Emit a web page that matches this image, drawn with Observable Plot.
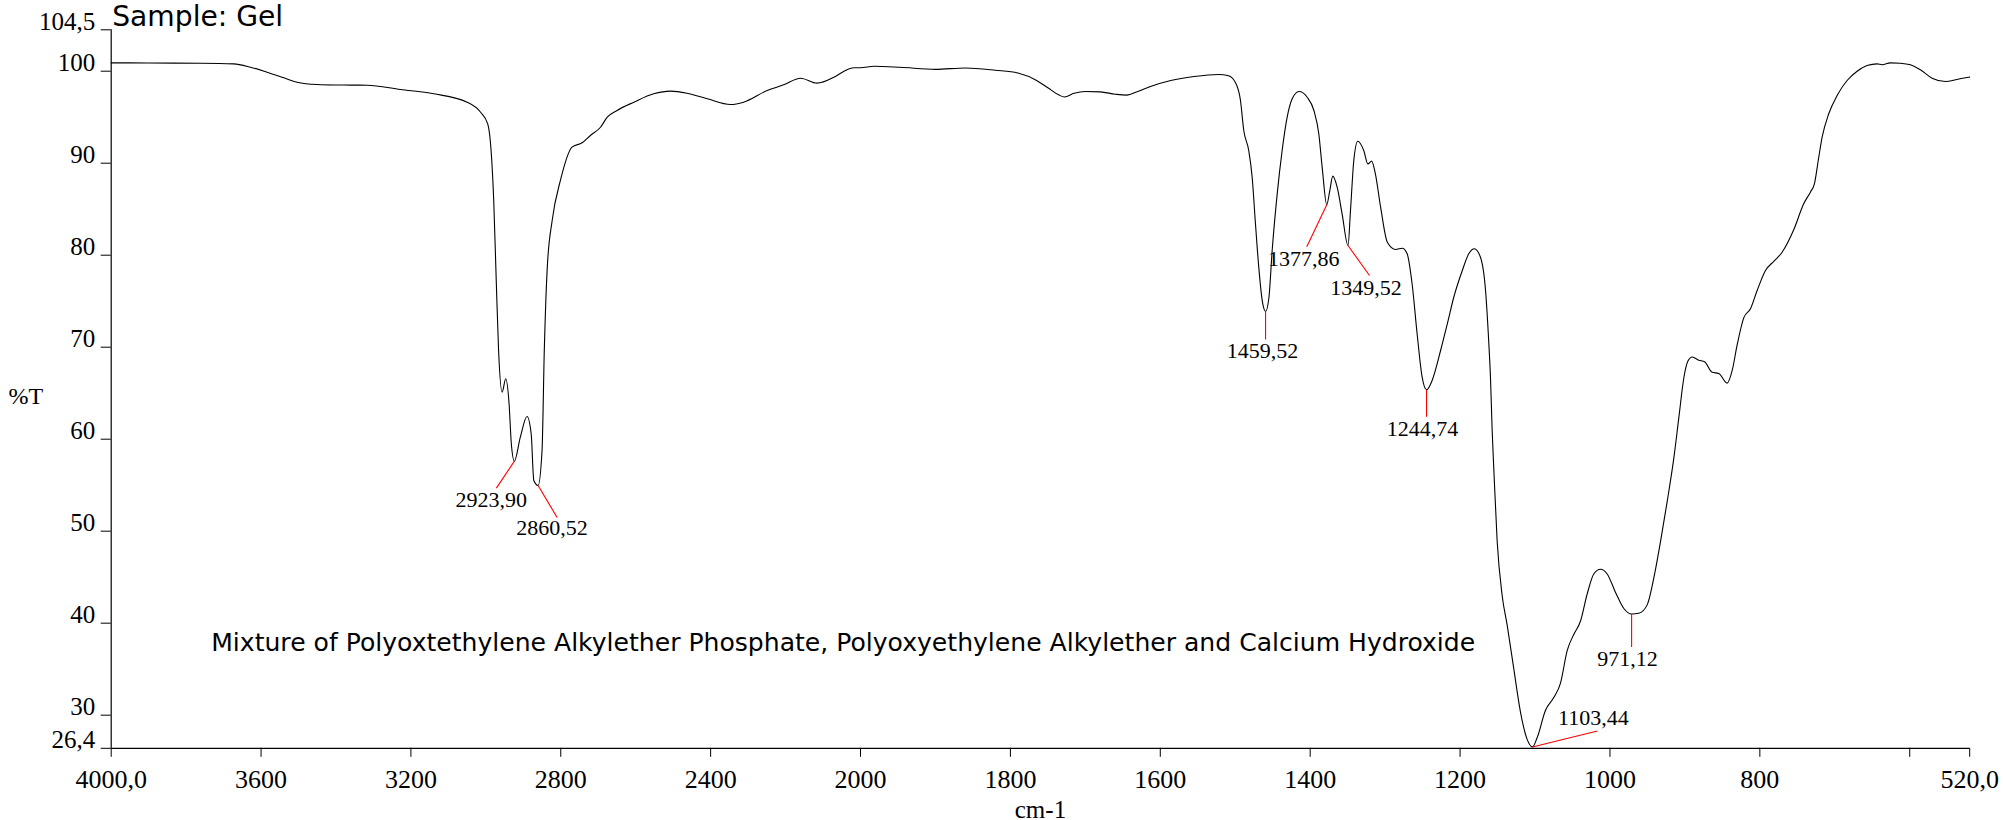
<!DOCTYPE html>
<html><head><meta charset="utf-8">
<script src="https://cdn.jsdelivr.net/npm/d3@7"></script>
<script src="https://cdn.jsdelivr.net/npm/@observablehq/plot@0.6"></script>
<style>html,body{margin:0;padding:0;background:#fff;overflow:hidden}</style>
</head><body><div id="chart"></div>
<script>
// ---------- data ----------
const wavenumbers = [4000,3900,3760,3673,3628,3584,3539,3504,3450,3400,3317,3228,3139,3050,3014,2995,2986,2979,2972,2966,2956.5,2947,2938,2932,2923.9,2908,2890,2879,2872,2860.5,2850,2844,2836,2823,2801,2770,2743,2721,2694,2676,2650,2605,2552,2507,2463,2409,2347,2312,2249,2205,2160,2116,2071,2045,2018,2000,1982,1947,1900,1860,1820,1790,1765,1750,1735,1728,1715,1700,1680,1660,1645,1630,1613,1586,1555,1522,1509,1500,1493,1488.6,1482,1477.4,1473,1468.6,1464,1459.5,1455,1450.7,1444,1437.4,1430.7,1424,1415,1404,1395,1388.5,1384,1377.9,1373.8,1369.8,1364,1357.4,1349.5,1346.2,1341.8,1336.5,1328.5,1323,1318,1313,1306,1297,1286,1277,1270.6,1264,1257.3,1250.6,1244.7,1237.3,1226,1217,1208.4,1197,1188.4,1181,1172.8,1166,1161.7,1159.4,1157.2,1155,1150.5,1143.8,1137.2,1128.4,1119.4,1110.5,1103.4,1097.1,1086,1075,1066,1057,1048,1039.4,1030.4,1021.6,1012.7,1003.7,992.7,981.5,971.1,961.5,950.3,941.4,932.5,923.6,914.7,908.1,901.4,896.1,890.2,881.4,873.8,863.6,854.8,843.6,836.9,830.3,821.4,812.5,803.6,792.5,781.4,770.3,754.8,741.5,732.6,727.2,721.4,716.9,708.1,696.9,683.6,670.2,656.9,643.5,636.9,625.8,612.5,599.1,585.8,570.2,552.4,536.8,521.4,520];
const transmittance = [100.91,100.89,100.87,100.80,100.43,99.89,99.28,98.80,98.55,98.50,98.48,98.01,97.54,96.63,95.54,94.28,91.38,85.95,76.89,69.64,65.11,66.57,63.85,59.50,57.61,60.22,62.47,60.59,55.51,54.97,58.77,69.64,78.70,83.77,88.12,91.74,92.22,93.01,93.91,95.00,95.73,96.63,97.54,97.83,97.61,97.00,96.38,96.63,97.90,98.52,99.24,98.70,99.35,99.97,100.37,100.37,100.54,100.43,100.20,100.35,100.10,99.80,99.00,98.20,97.40,97.20,97.60,97.80,97.75,97.50,97.40,97.80,98.34,98.99,99.42,99.64,99.50,98.80,96.82,93.55,91.38,88.48,83.41,78.70,75.08,73.88,75.43,80.51,86.67,91.38,95.00,97.00,97.79,97.17,95.73,93.20,89.57,85.48,87.03,88.59,87.39,84.50,81.05,84.86,90.29,92.39,91.38,89.93,90.22,88.85,85.22,81.41,80.62,80.76,80.15,76.89,71.46,66.74,65.37,66.38,69.64,72.54,75.43,78.34,80.15,80.70,79.78,76.16,70.50,66.68,61.00,56.80,48.90,42.98,39.82,35.08,30.34,27.37,26.55,27.57,30.53,31.91,33.49,37.04,38.82,40.21,43.17,45.35,45.86,45.35,43.37,41.60,41.00,41.08,41.99,44.95,48.90,53.25,57.99,62.34,66.68,68.46,68.93,68.58,68.42,67.27,67.15,66.09,67.47,70.24,73.21,74.18,76.16,78.34,79.33,80.32,82.76,85.59,86.85,87.76,90.65,92.83,95.37,97.36,98.99,100.00,100.62,100.80,100.70,100.91,100.87,100.70,100.15,99.24,98.88,99.10,99.35,99.36];
const peakWavenumbers = [2923.90, 2860.52, 1459.52, 1377.86, 1349.52, 1244.74, 1103.44, 971.12];
const peakTransmittance = [57.61, 54.97, 73.88, 85.48, 81.05, 65.37, 26.55, 41.00];
const peakLabels = ["2923,90", "2860,52", "1459,52", "1377,86", "1349,52", "1244,74", "1103,44", "971,12"];
const xTickValues = [4000, 3600, 3200, 2800, 2400, 2000, 1800, 1600, 1400, 1200, 1000, 800, 600, 520];
const xTickLabels = ["4000,0", "3600", "3200", "2800", "2400", "2000", "1800", "1600", "1400", "1200", "1000", "800", "", "520,0"];
const yTickValues = [104.5, 100, 90, 80, 70, 60, 50, 40, 30, 26.4];
const yTickLabels = ["104,5", "100", "90", "80", "70", "60", "50", "40", "30", "26,4"];
const titleText = "Sample: Gel";
const noteText = "Mixture of Polyoxtethylene Alkylether Phosphate, Polyoxyethylene Alkylether and Calcium Hydroxide";
const yLabelText = "%T";
const xLabelText = "cm-1";

// ---------- layout ----------
const W = 2003, H = 820;
const mL = 110.7, mR = 33.8, mT = 29.3, mB = 72.2;
const xDomain = [4000, 2000, 520];
const xRange = [mL, 860, W - mR];
const yDomain = [26.4, 104.5];
const xPix = d3.scaleLinear().domain(xDomain).range(xRange);
const yPix = d3.scaleLinear().domain(yDomain).range([H - mB, mT]);
const serif = "'Liberation Serif', 'Times New Roman', Times, serif";
const comic = "'Comic Sans MS', 'DejaVu Sans', sans-serif";

const spectrum = wavenumbers.map((w, i) => ({w, t: transmittance[i]}));
const peaks = peakWavenumbers.map((w, i) => ({w, t: peakTransmittance[i], label: peakLabels[i]}));
// leader-line end offsets and label offsets (pixels) relative to each peak
const leaderOff = [[-18, 27], [19, 32], [0, 28], [-20, 42], [21.5, 30], [0, 27], [65, -16], [0, 33]];
const labelOff = [[-23, 46], [14, 50], [-3, 47], [-23, 61], [18, 49], [-4, 46], [61, -22], [-4, 52]];
const leaders = peaks.map((p, i) => ({
  x1: p.w, y1: p.t,
  x2: xPix.invert(xPix(p.w) + leaderOff[i][0]),
  y2: yPix.invert(yPix(p.t) + leaderOff[i][1])
}));

const plot = Plot.plot({
  width: W, height: H,
  marginLeft: mL, marginRight: mR, marginTop: mT, marginBottom: mB,
  style: {background: "#fff", color: "#000", overflow: "visible"},
  x: {type: "linear", domain: xDomain, range: xRange, axis: null},
  y: {domain: yDomain, axis: null},
  marks: [
    Plot.ruleX([4000], {stroke: "#000", strokeWidth: 1.2}),
    Plot.ruleY([26.4], {stroke: "#000", strokeWidth: 1.2}),
    Plot.axisY({anchor: "left", ticks: yTickValues, tickFormat: d => yTickLabels[yTickValues.indexOf(d)],
      tickSize: 10, tickPadding: 6, fontSize: 25, fontFamily: serif, lineAnchor: "bottom", label: null, stroke: "#000", fill: "#000"}),
    Plot.axisX({anchor: "bottom", ticks: xTickValues, tickFormat: d => xTickLabels[xTickValues.indexOf(d)],
      tickSize: 9, tickPadding: 12.7, fontSize: 26, fontFamily: serif, label: null, stroke: "#000", fill: "#000"}),
    Plot.line(spectrum, {x: "w", y: "t", curve: "monotone-x", stroke: "#000", strokeWidth: 1.1}),
    Plot.link(leaders, {x1: "x1", y1: "y1", x2: "x2", y2: "y2", stroke: "#ff0000", strokeWidth: 1.1}),
    ...peaks.map((p, i) => Plot.text([p], {x: "w", y: "t", text: "label", dx: labelOff[i][0], dy: labelOff[i][1],
      lineAnchor: "bottom", fontSize: 22, fontFamily: serif, fill: "#000"})),
    Plot.text([yLabelText], {frameAnchor: "left", dx: -102.7, dy: 14.5, textAnchor: "start", lineAnchor: "bottom",
      fontSize: 24, fontFamily: serif, fill: "#000"}),
    Plot.text([xLabelText], {frameAnchor: "bottom", dy: 69.2, lineAnchor: "bottom", fontSize: 25, fontFamily: serif, fill: "#000"}),
    Plot.text([titleText], {frameAnchor: "top-left", dx: 1, dy: -3.5, textAnchor: "start", lineAnchor: "bottom",
      fontSize: 27, fontFamily: comic, fill: "#000"}),
    Plot.text([noteText], {frameAnchor: "bottom-left", dx: 100, dy: -97.1, textAnchor: "start", lineAnchor: "bottom",
      fontSize: 25, fontFamily: comic, fill: "#000"})
  ]
});
document.getElementById("chart").appendChild(plot);

// fit the two handwritten-style texts to the widths they occupy in the reference
function fitText(str, target) {
  d3.select(plot).selectAll("text").each(function() {
    if (this.textContent === str) {
      const w = this.getComputedTextLength();
      const fs = parseFloat(getComputedStyle(this).fontSize);
      if (w > 0) this.style.fontSize = (fs * target / w).toFixed(2) + "px";
    }
  });
}
fitText(noteText, 1264);
fitText(titleText, 171);
</script>
</body></html>
